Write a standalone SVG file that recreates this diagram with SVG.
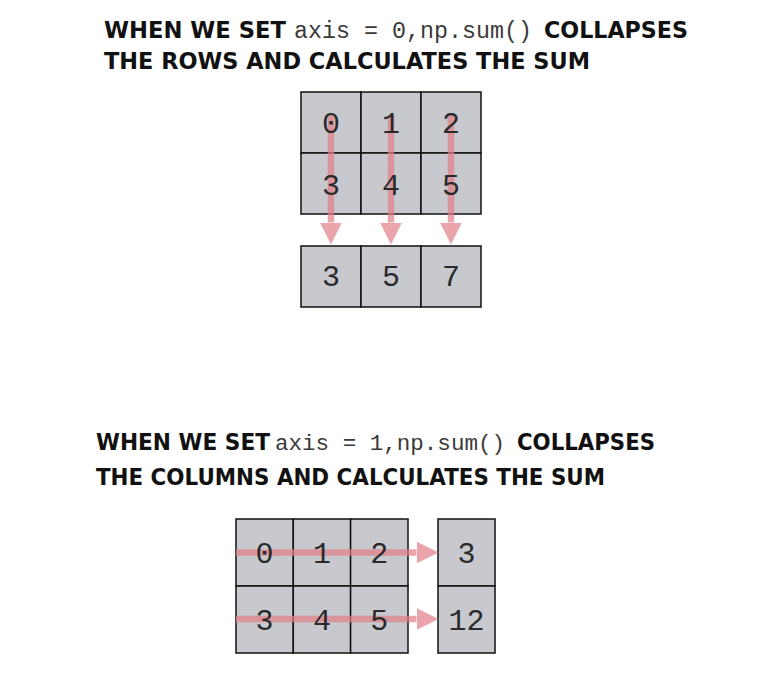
<svg xmlns="http://www.w3.org/2000/svg" width="780" height="696" viewBox="0 0 780 696">
<defs>
<style>
.title{font-family:"DejaVu Sans","Liberation Sans",sans-serif;font-weight:bold;fill:#111;}
.code{font-family:"Liberation Mono","Courier New",monospace;fill:#3a3a3a;}
.cell rect{fill:#c8c9ce;stroke:#111;stroke-width:1.5;}
.cell text{font-family:"Liberation Mono","Courier New",monospace;font-size:30px;fill:#2a2a2a;text-anchor:middle;}
.arrow{stroke:#e27e88;stroke-width:6.5;fill:none;}
</style>
<marker id="head" markerUnits="userSpaceOnUse" markerWidth="22" markerHeight="22" viewBox="0 0 22 22" refX="0" refY="11" orient="auto">
<path d="M0,0 L22,11 L0,22 Z" fill="#e27e88"/>
</marker>
</defs>
<rect width="780" height="696" fill="#fff"/>

<g id="title-axis0">
<text class="title" x="104" y="38" font-size="23.5" textLength="182" lengthAdjust="spacingAndGlyphs">WHEN WE SET</text>
<text class="code" x="294" y="38" font-size="23" textLength="238" lengthAdjust="spacingAndGlyphs">axis = 0,np.sum()</text>
<text class="title" x="544" y="38" font-size="23.5" textLength="144" lengthAdjust="spacingAndGlyphs">COLLAPSES</text>
<text class="title" x="104" y="69" font-size="23.5" textLength="486" lengthAdjust="spacingAndGlyphs">THE ROWS AND CALCULATES THE SUM</text>
</g>

<g id="top-input">
<g class="cell" id="t00"><rect x="301" y="92" width="60" height="61"/></g>
<g class="cell" id="t01"><rect x="361" y="92" width="60" height="61"/></g>
<g class="cell" id="t02"><rect x="421" y="92" width="60" height="61"/></g>
<g class="cell" id="t10"><rect x="301" y="153" width="60" height="61"/></g>
<g class="cell" id="t11"><rect x="361" y="153" width="60" height="61"/></g>
<g class="cell" id="t12"><rect x="421" y="153" width="60" height="61"/></g>
</g>
<g id="top-output">
<g class="cell" id="to0"><rect x="301" y="246" width="60" height="61"/></g>
<g class="cell" id="to1"><rect x="361" y="246" width="60" height="61"/></g>
<g class="cell" id="to2"><rect x="421" y="246" width="60" height="61"/></g>
</g>

<g id="title-axis1">
<text class="title" x="96" y="450" font-size="23" textLength="174" lengthAdjust="spacingAndGlyphs">WHEN WE SET</text>
<text class="code" x="275" y="450" font-size="22.5" textLength="230" lengthAdjust="spacingAndGlyphs">axis = 1,np.sum()</text>
<text class="title" x="517" y="450" font-size="23" textLength="138" lengthAdjust="spacingAndGlyphs">COLLAPSES</text>
<text class="title" x="96" y="485" font-size="23" textLength="509" lengthAdjust="spacingAndGlyphs">THE COLUMNS AND CALCULATES THE SUM</text>
</g>

<g id="bottom-input">
<g class="cell" id="b00"><rect x="236" y="519" width="57.3" height="67"/></g>
<g class="cell" id="b01"><rect x="293.3" y="519" width="57.3" height="67"/></g>
<g class="cell" id="b02"><rect x="350.6" y="519" width="57.4" height="67"/></g>
<g class="cell" id="b10"><rect x="236" y="586" width="57.3" height="67"/></g>
<g class="cell" id="b11"><rect x="293.3" y="586" width="57.3" height="67"/></g>
<g class="cell" id="b12"><rect x="350.6" y="586" width="57.4" height="67"/></g>
</g>
<g id="bottom-output">
<g class="cell" id="bo0"><rect x="438" y="519" width="57" height="67"/></g>
<g class="cell" id="bo1"><rect x="438" y="586" width="57" height="67"/></g>
</g>

<g id="connectors" opacity="0.7">
<path class="arrow" d="M331,115 V222.5" marker-end="url(#head)"/>
<path class="arrow" d="M391,115 V222.5" marker-end="url(#head)"/>
<path class="arrow" d="M451,115 V222.5" marker-end="url(#head)"/>
<path class="arrow" d="M236,552.5 H416.5" marker-end="url(#head)"/>
<path class="arrow" d="M236,619 H416.5" marker-end="url(#head)"/>
</g>

<g id="labels" class="cell">
<text x="331" y="133">0</text>
<text x="391" y="133">1</text>
<text x="451" y="133">2</text>
<text x="331" y="195">3</text>
<text x="391" y="195">4</text>
<text x="451" y="195">5</text>
<text x="331" y="286">3</text>
<text x="391" y="286">5</text>
<text x="451" y="286">7</text>
<text x="264.6" y="563">0</text>
<text x="322" y="563">1</text>
<text x="379.3" y="563">2</text>
<text x="264.6" y="630">3</text>
<text x="322" y="630">4</text>
<text x="379.3" y="630">5</text>
<text x="466.5" y="563">3</text>
<text x="466.5" y="630">12</text>
</g>
</svg>
